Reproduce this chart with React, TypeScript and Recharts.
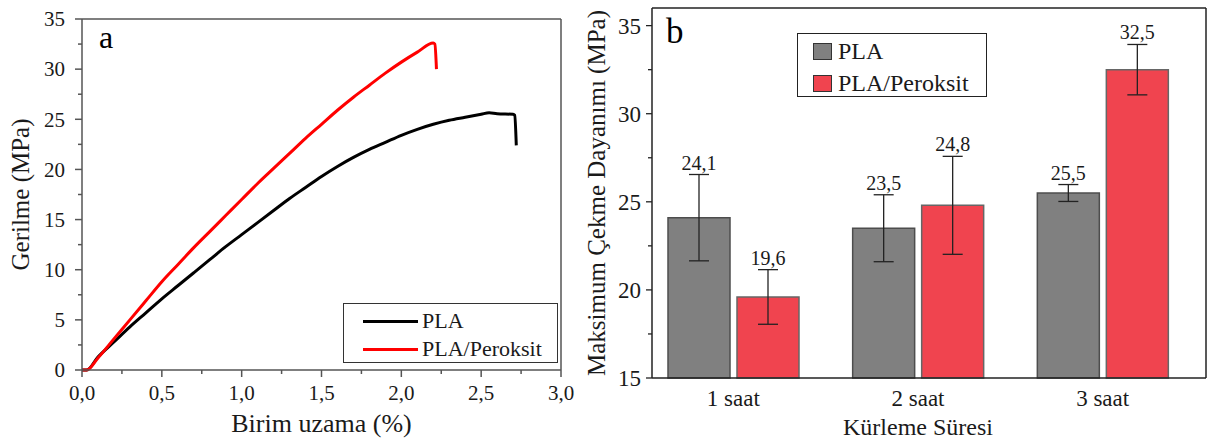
import {
  Bar,
  BarChart,
  ErrorBar,
  LabelList,
  Legend,
  Line,
  LineChart,
  XAxis,
  YAxis,
} from 'recharts'

const FONT = '"Liberation Serif", "DejaVu Serif", serif'
const TEXT = '#1a1a1a'

// panel a: stress-strain curves
const plaStrain = [
  0, 0.03, 0.1, 0.2, 0.3, 0.4, 0.5, 0.6, 0.7, 0.8, 0.9, 1.0, 1.1, 1.2, 1.3, 1.4, 1.5,
  1.6, 1.7, 1.8, 1.9, 2.0, 2.1, 2.2, 2.3, 2.4, 2.5, 2.55, 2.6, 2.7, 2.71, 2.72,
]
const plaStress = [
  0, 0, 1.3, 2.8, 4.3, 5.7, 7.1, 8.4, 9.7, 11.0, 12.3, 13.5, 14.7, 15.9, 17.1, 18.2, 19.3,
  20.3, 21.2, 22.0, 22.7, 23.4, 24.0, 24.5, 24.9, 25.2, 25.5, 25.65, 25.55, 25.5, 25.4, 22.4,
]
const peroksitStrain = [
  0, 0.03, 0.1, 0.2, 0.3, 0.4, 0.5, 0.6, 0.7, 0.8, 0.9, 1.0, 1.1, 1.2, 1.3, 1.4, 1.5,
  1.6, 1.7, 1.8, 1.9, 2.0, 2.1, 2.2, 2.21, 2.22,
]
const peroksitStress = [
  0, 0, 1.2, 3.1, 5.0, 6.9, 8.8, 10.5, 12.2, 13.8, 15.4, 17.0, 18.6, 20.1, 21.6, 23.1, 24.5,
  25.9, 27.2, 28.4, 29.6, 30.7, 31.7, 32.6, 32.5, 30.0,
]
const strainTicks = [0, 0.25, 0.5, 0.75, 1, 1.25, 1.5, 1.75, 2, 2.25, 2.5, 2.75, 3]
const stressTicks = [0, 2.5, 5, 7.5, 10, 12.5, 15, 17.5, 20, 22.5, 25, 27.5, 30, 32.5, 35]

// panel b: max tensile strength
const cureTimes = ['1 saat', '2 saat', '3 saat']
const plaStrength = [24.1, 23.5, 25.5]
const plaError = [2.45, 1.9, 0.48]
const peroksitStrength = [19.6, 24.8, 32.5]
const peroksitError = [1.55, 2.78, 1.43]
const strengthTicks = [15, 17.5, 20, 22.5, 25, 27.5, 30, 32.5, 35]

const plaCurve = plaStrain.map((x, i) => ({ x, y: plaStress[i] }))
const peroksitCurve = peroksitStrain.map((x, i) => ({ x, y: peroksitStress[i] }))
const barData = cureTimes.map((name, i) => ({
  name,
  pla: plaStrength[i],
  plaErr: plaError[i],
  per: peroksitStrength[i],
  perErr: peroksitError[i],
}))

const comma = (v: number) => v.toFixed(1).replace('.', ',')
const isMultiple = (v: number, step: number) =>
  Math.abs(v / step - Math.round(v / step)) < 1e-6

function StrainTick({ x, y, payload }: any) {
  const v = payload.value
  const major = isMultiple(v, 0.5)
  return (
    <g>
      <line x1={x} x2={x} y1={y} y2={y + (major ? 7 : 4)} stroke="#555" strokeWidth={1.5} />
      {major && (
        <text x={x} y={y + 30} textAnchor="middle" fontSize={21} fontFamily={FONT} fill={TEXT}>
          {comma(v)}
        </text>
      )}
    </g>
  )
}

function StressTick({ x, y, payload }: any) {
  const v = payload.value
  const major = isMultiple(v, 5)
  return (
    <g>
      <line x1={x - (major ? 7 : 4)} x2={x} y1={y} y2={y} stroke="#555" strokeWidth={1.5} />
      {major && (
        <text x={x - 17} y={y} dy="0.35em" textAnchor="end" fontSize={21} fontFamily={FONT} fill={TEXT}>
          {v}
        </text>
      )}
    </g>
  )
}

function StrengthTick({ x, y, payload }: any) {
  const v = payload.value
  const major = isMultiple(v, 5)
  return (
    <g>
      <line x1={x - (major ? 6 : 4)} x2={x} y1={y} y2={y} stroke="#222" strokeWidth={1.3} />
      {major && (
        <text x={x - 11} y={y} dy="0.35em" textAnchor="end" fontSize={23} fontFamily={FONT} fill={TEXT}>
          {v}
        </text>
      )}
    </g>
  )
}

function CureTick({ x, y, payload }: any) {
  return (
    <text x={x} y={y + 28} textAnchor="middle" fontSize={23} fontFamily={FONT} fill={TEXT}>
      {payload.value}
    </text>
  )
}

function VerticalTitle({ viewBox, text, dx }: any) {
  const cx = viewBox.x + viewBox.width - dx
  const cy = viewBox.y + viewBox.height / 2
  return (
    <text
      x={cx}
      y={cy}
      transform={`rotate(-90, ${cx}, ${cy})`}
      textAnchor="middle"
      dominantBaseline="central"
      fontSize={25}
      fontFamily={FONT}
      fill={TEXT}
    >
      {text}
    </text>
  )
}

function BottomTitle({ viewBox, text, dy, shift = 0, size = 25 }: any) {
  return (
    <text
      x={viewBox.x + viewBox.width / 2 + shift}
      y={viewBox.y + dy}
      textAnchor="middle"
      fontSize={size}
      fontFamily={FONT}
      fill={TEXT}
    >
      {text}
    </text>
  )
}

function PanelLetter({ viewBox, text, dx, dy, size }: any) {
  return (
    <text
      x={viewBox.x + dx}
      y={viewBox.y + viewBox.height + dy}
      fontSize={size}
      fontFamily={FONT}
      fill="#000"
    >
      {text}
    </text>
  )
}

function ValueLabel(props: any) {
  const vb = props.viewBox ?? props
  const x = vb.x ?? props.x
  const y = vb.y ?? props.y
  const width = vb.width ?? props.width
  const height = vb.height ?? props.height
  const value = Number(props.value)
  const err = props.errors[props.index] ?? 0
  const perUnit = height / (value - 15)
  const top = y - err * perUnit
  return (
    <text x={x + width / 2} y={top - 5} textAnchor="middle" fontSize={20} fontFamily={FONT} fill={TEXT}>
      {comma(value)}
    </text>
  )
}

function LineLegend({ payload }: any) {
  return (
    <div
      style={{
        boxSizing: 'border-box',
        width: '100%',
        height: '100%',
        border: '1px solid #333',
        background: '#fff',
        position: 'relative',
        fontFamily: FONT,
      }}
    >
      {(payload ?? []).map((item: any, i: number) => (
        <div
          key={item.value}
          style={{
            position: 'absolute',
            left: 19,
            top: 4 + i * 28,
            height: 26,
            display: 'flex',
            alignItems: 'center',
          }}
        >
          <div style={{ width: 55, height: 3, background: item.color, marginRight: 4 }} />
          <span style={{ fontSize: 22, lineHeight: '26px', color: TEXT, whiteSpace: 'nowrap' }}>
            {item.value}
          </span>
        </div>
      ))}
    </div>
  )
}

function BarLegend({ payload }: any) {
  return (
    <div
      style={{
        boxSizing: 'border-box',
        width: '100%',
        height: '100%',
        border: '1px solid #222',
        background: '#fff',
        position: 'relative',
        fontFamily: FONT,
      }}
    >
      {(payload ?? []).map((item: any, i: number) => (
        <div
          key={item.value}
          style={{
            position: 'absolute',
            left: 15,
            top: 2 + i * 32,
            height: 30,
            display: 'flex',
            alignItems: 'center',
          }}
        >
          <div
            style={{
              boxSizing: 'border-box',
              width: 19,
              height: 17,
              background: item.color,
              border: '1.5px solid #333',
              marginRight: 6,
            }}
          />
          <span style={{ fontSize: 24, lineHeight: '30px', color: TEXT, whiteSpace: 'nowrap' }}>
            {item.value}
          </span>
        </div>
      ))}
    </div>
  )
}

function StressStrainChart() {
  return (
    <LineChart width={590} height={442} margin={{ top: 18, right: 28, bottom: 0, left: 0 }}>
      <XAxis
        dataKey="x"
        type="number"
        domain={[0, 3]}
        ticks={strainTicks}
        interval={0}
        height={72}
        tickSize={0}
        tickMargin={0}
        tickLine={false}
        tick={<StrainTick />}
        axisLine={{ stroke: '#555', strokeWidth: 1.5 }}
        label={<BottomTitle text="Birim uzama (%)" dy={62} size={26} />}
      />
      <XAxis
        xAxisId="top"
        orientation="top"
        type="number"
        domain={[0, 3]}
        height={1}
        tick={false}
        tickLine={false}
        axisLine={{ stroke: '#555', strokeWidth: 1.5 }}
        label={<PanelLetter text="a" dx={17} dy={29} size={32} />}
      />
      <YAxis
        type="number"
        domain={[0, 35]}
        ticks={stressTicks}
        interval={0}
        width={82}
        tickSize={0}
        tickMargin={0}
        tickLine={false}
        tick={<StressTick />}
        axisLine={{ stroke: '#555', strokeWidth: 1.5 }}
        label={<VerticalTitle text="Gerilme (MPa)" dx={62} />}
      />
      <YAxis
        yAxisId="right"
        orientation="right"
        type="number"
        domain={[0, 35]}
        width={1}
        tick={false}
        tickLine={false}
        axisLine={{ stroke: '#555', strokeWidth: 1.5 }}
      />
      <Legend
        layout="vertical"
        align="center"
        verticalAlign="middle"
        content={<LineLegend />}
        wrapperStyle={{ left: 343, top: 303, width: 215, height: 60 }}
      />
      <Line
        data={plaCurve}
        dataKey="y"
        name="PLA"
        type="monotone"
        stroke="#000000"
        strokeWidth={3}
        dot={false}
        isAnimationActive={false}
      />
      <Line
        data={peroksitCurve}
        dataKey="y"
        name="PLA/Peroksit"
        type="monotone"
        stroke="#ff0000"
        strokeWidth={3}
        dot={false}
        isAnimationActive={false}
      />
    </LineChart>
  )
}

function StrengthChart() {
  return (
    <BarChart
      width={638}
      height={442}
      data={barData}
      margin={{ top: 7, right: 1, bottom: 0, left: 0 }}
      barSize={62}
      barGap={7}
    >
      <XAxis
        dataKey="name"
        padding={{ left: -11, right: 11 }}
        interval={0}
        height={64}
        tickSize={0}
        tickMargin={0}
        tickLine={false}
        tick={<CureTick />}
        axisLine={{ stroke: '#222', strokeWidth: 1.5 }}
        label={<BottomTitle text="Kürleme Süresi" dy={57} shift={-11} size={24} />}
      />
      <XAxis
        xAxisId="top"
        dataKey="name"
        orientation="top"
        height={1}
        tick={false}
        tickLine={false}
        axisLine={{ stroke: '#222', strokeWidth: 1.5 }}
        label={<PanelLetter text="b" dx={14} dy={35} size={35} />}
      />
      <YAxis
        type="number"
        domain={[15, 36]}
        ticks={strengthTicks}
        interval={0}
        width={82}
        tickSize={0}
        tickMargin={0}
        tickLine={false}
        tick={<StrengthTick />}
        axisLine={{ stroke: '#222', strokeWidth: 1.5 }}
        label={<VerticalTitle text="Maksimum Çekme Dayanımı (MPa)" dx={56} />}
      />
      <YAxis
        yAxisId="right"
        orientation="right"
        type="number"
        domain={[15, 36]}
        width={1}
        tick={false}
        tickLine={false}
        axisLine={{ stroke: '#222', strokeWidth: 1.5 }}
      />
      <Legend
        layout="vertical"
        align="center"
        verticalAlign="middle"
        content={<BarLegend />}
        wrapperStyle={{ left: 227, top: 33, width: 190, height: 64 }}
      />
      <Bar dataKey="pla" name="PLA" fill="#808080" stroke="#4d4d4d" strokeWidth={1.5} isAnimationActive={false}>
        <ErrorBar dataKey="plaErr" width={10} stroke="#222" strokeWidth={1.3} direction="y" />
        <LabelList dataKey="pla" content={(p: any) => <ValueLabel {...p} errors={plaError} />} />
      </Bar>
      <Bar dataKey="per" name="PLA/Peroksit" fill="#f0444f" stroke="#666" strokeWidth={1.5} isAnimationActive={false}>
        <ErrorBar dataKey="perErr" width={10} stroke="#222" strokeWidth={1.3} direction="y" />
        <LabelList dataKey="per" content={(p: any) => <ValueLabel {...p} errors={peroksitError} />} />
      </Bar>
    </BarChart>
  )
}

export default function App() {
  return (
    <div
      style={{
        position: 'absolute',
        left: 0,
        top: 0,
        width: 1208,
        height: 442,
        background: '#fff',
        fontFamily: FONT,
      }}
    >
      <div style={{ position: 'absolute', left: 570, top: 0 }}>
        <StrengthChart />
      </div>
      <div style={{ position: 'absolute', left: 0, top: 0, pointerEvents: 'none' }}>
        <StressStrainChart />
      </div>
    </div>
  )
}
